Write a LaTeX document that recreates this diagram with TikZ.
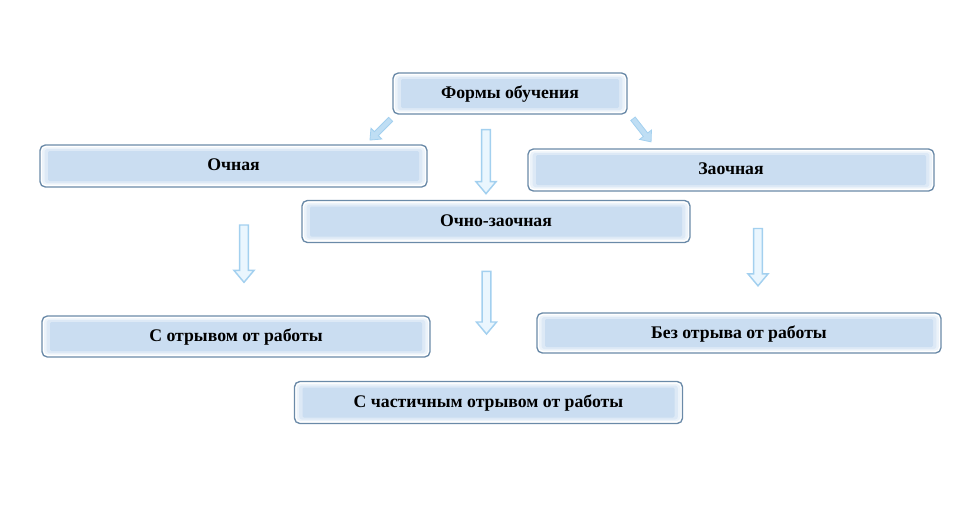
\documentclass[tikz,border=0pt]{standalone}
\usepackage{fontspec}
\setmainfont{Liberation Serif}
\usetikzlibrary{shapes.arrows}
\definecolor{boxborder}{HTML}{6A8AA8}
\definecolor{boxfill}{HTML}{CADDF1}
\definecolor{arrline}{HTML}{A3D0EF}
\definecolor{arrfill}{HTML}{EAF6FE}
\tikzset{
  formbox/.style={draw=boxborder, line width=1pt, rounded corners=4pt,
    fill=white, inner sep=0pt, font=\bfseries\fontsize{13.3}{15}\selectfont,
    text depth=0pt,
    path picture={
      \fill[boxfill!35!white,rounded corners=3pt] ([shift={(1.5pt,1.8pt)}]path picture bounding box.south west) rectangle ([shift={(-1.5pt,-1.8pt)}]path picture bounding box.north east);
      \fill[boxfill!65!white,rounded corners=2pt] ([shift={(3.5pt,3pt)}]path picture bounding box.south west) rectangle ([shift={(-3.5pt,-3pt)}]path picture bounding box.north east);
      \fill[boxfill,rounded corners=1pt] ([shift={(6pt,4.5pt)}]path picture bounding box.south west) rectangle ([shift={(-6pt,-4.5pt)}]path picture bounding box.north east);
    }},
  blockarr/.style={single arrow, draw=arrline, fill=arrfill, line width=1.1pt,
    inner sep=2.8pt, single arrow head extend=4.2pt, single arrow tip angle=80,
    minimum height=#1, anchor=center},
  smallarr/.style={single arrow, draw=arrline, fill=arrline!70!white, line width=0.6pt,
    inner sep=1.8pt, single arrow head extend=3.6pt, single arrow tip angle=80,
    minimum height=#1, anchor=center}
}
\begin{document}
\begin{tikzpicture}[x=0.75pt,y=-0.75pt]
\useasboundingbox (0,0) rectangle (972,522);
\node[formbox, minimum width=175.5pt, minimum height=30.75pt] (top) at (510,93.5) {\raisebox{1.5pt}{Формы обучения}};
\node[formbox, minimum width=290.25pt, minimum height=31.5pt] (och) at (233.5,166) {\raisebox{1.5pt}{Очная}};
\node[formbox, minimum width=304.5pt, minimum height=31.5pt] (zaoch) at (731,170) {\raisebox{1.5pt}{Заочная}};
\node[formbox, minimum width=291pt, minimum height=31.5pt] (ochz) at (496,221.5) {\raisebox{1.5pt}{Очно-заочная}};
\node[formbox, minimum width=291pt, minimum height=30.75pt] (sotr) at (236,336.5) {\raisebox{1.5pt}{С отрывом от работы}};
\node[formbox, minimum width=303pt, minimum height=30pt] (bez) at (739,333) {\raisebox{1.5pt}{Без отрыва от работы}};
\node[formbox, minimum width=291pt, minimum height=31.5pt] (chast) at (488.5,402.5) {\raisebox{1.5pt}{С частичным отрывом от работы}};
% arrows
\node[blockarr=48pt, rotate=-90] (a1) at (486,159) {};
\node[smallarr=22pt, rotate=225] (a2) at (381.5,128.5) {};
\node[smallarr=22pt, rotate=-52] (a3) at (641,129) {};
\node[blockarr=43pt, rotate=-90] (a4) at (244,251) {};
\node[blockarr=47pt, rotate=-90] (a5) at (486.5,300) {};
\node[blockarr=43pt, rotate=-90] (a6) at (758,254.5) {};
\end{tikzpicture}
\end{document}
